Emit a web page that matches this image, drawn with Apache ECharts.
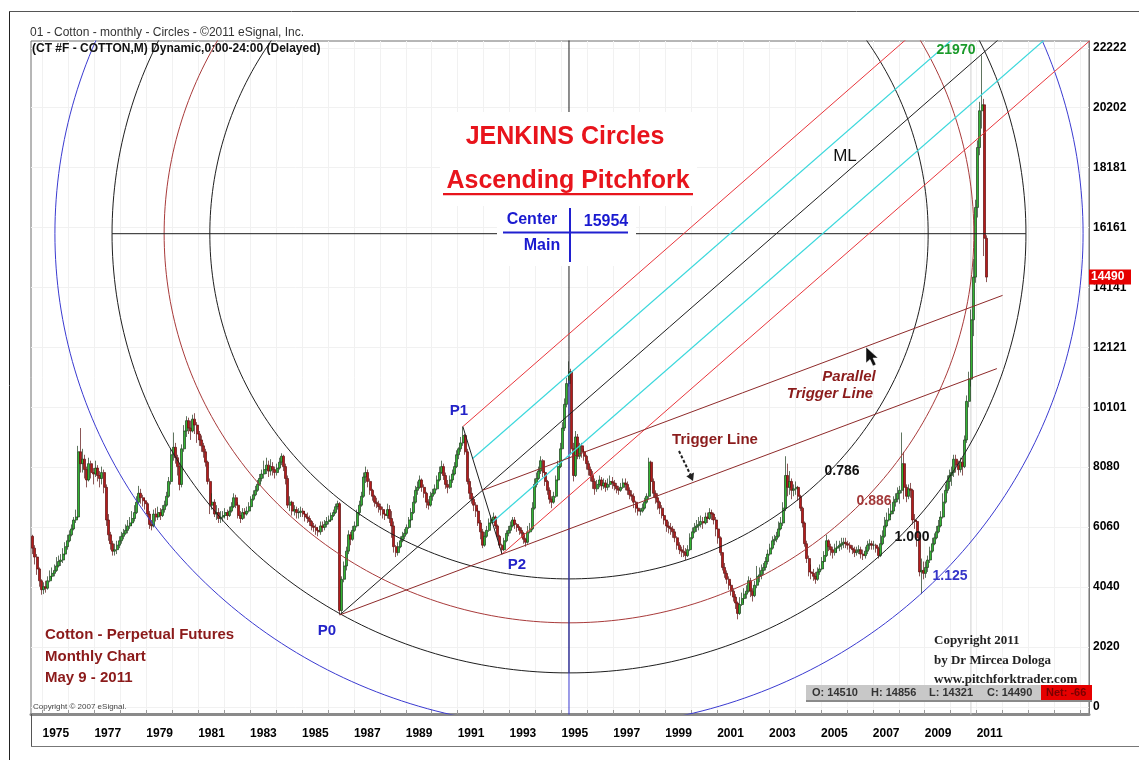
<!DOCTYPE html>
<html>
<head>
<meta charset="utf-8">
<script src="https://cdn.jsdelivr.net/npm/echarts@6/dist/echarts.min.js"></script>
<style>
html,body{margin:0;padding:0;background:#fff;}
#chart{width:1139px;height:760px;}
</style>
</head>
<body>
<div id="chart"></div>
<script>
// ---------------- DATA ----------------
const firstBar = [1974, 8];       // year, month of first monthly candle
const firstOpen = 5750;
// Monthly closes, Aug 1974 .. May 2011 (price in points)
const closes = [
  5350,5050,4650,4250,3950,                                        // 1974 Aug-Dec
  4050,4000,4250,4400,4500,4600,4750,4900,4950,5150,5400,5600,     // 1975
  5800,6000,6300,6400,8600,8200,8350,8000,7650,8200,7900,7850,     // 1976
  8050,7800,7700,7900,7400,6300,5800,5500,5250,5300,5450,5600,     // 1977
  5750,5850,5950,6100,6200,6350,6550,6900,7200,7050,6950,6850,     // 1978
  6500,6150,6100,6500,6400,6550,6450,6650,6800,7100,7600,8500,     // 1979
  8750,8400,8100,7500,8700,9300,9650,9400,9300,9700,9500,9200,     // 1980
  9000,8800,8600,8250,7600,6800,6900,6500,6550,6350,6400,6450,     // 1981
  6550,6450,6600,6750,7050,6800,6450,6350,6550,6500,6600,6750,     // 1982
  7000,7150,7300,7500,7700,7850,8000,8150,7950,8100,8000,7900,     // 1983
  8050,8250,8450,8100,7700,6800,6900,6600,6650,6550,6550,6600,     // 1984
  6500,6400,6350,6250,6100,6050,5950,5900,6100,6050,6150,6250,     // 1985
  6300,6450,6550,6750,6850,3250,4300,4750,5250,5800,5650,5950,     // 1986
  6100,6550,6800,7100,7750,7900,7600,7300,7100,6900,6850,6750,     // 1987
  6650,6500,6450,6650,6350,6100,5400,5200,5400,5600,5750,5850,     // 1988
  6050,6300,6550,6900,7300,7400,7650,7400,7200,6900,6800,7100,     // 1989
  7200,7350,7650,7900,8100,7800,7500,7400,7650,7850,8100,8500,     // 1990
  8700,8900,9150,8600,7600,7200,7000,6800,6600,6200,5900,5450,     // 1991
  5750,5950,6200,6300,6400,6100,5750,5450,5300,5600,5850,5950,     // 1992
  6100,6300,6150,6050,5950,5850,5650,5550,5900,6000,6700,7500,     // 1993
  7700,7950,8300,7900,7600,7300,7000,6900,7100,7650,8100,8700,     // 1994
  9400,10200,10900,11300,8700,7800,9100,8450,8800,8600,8450,8200,  // 1995
  8000,7800,7600,7350,7500,7650,7450,7550,7400,7500,7600,7550,     // 1996
  7450,7350,7300,7400,7550,7500,7300,7150,7100,6900,6700,6600,     // 1997
  6600,6700,6900,7100,8250,7600,7200,7050,6900,6700,6450,6300,     // 1998
  6100,6050,6000,5900,5700,5450,5300,5250,5200,5100,5300,5700,     // 1999
  5900,6050,6100,6150,6250,6200,6400,6350,6550,6500,6300,6000,     // 2000
  5700,5200,4700,4500,4300,4100,3900,3700,3500,3150,3450,3650,     // 2001
  3800,3900,4250,3900,3750,4100,4400,4450,4600,4700,4900,5150,     // 2002
  5350,5600,5650,5750,6000,6200,6700,7800,7400,7600,7300,7350,     // 2003
  7400,7100,6700,6200,5500,5000,4550,4500,4400,4300,4550,4650,     // 2004
  4900,5100,5600,5400,5300,5200,5350,5400,5450,5500,5550,5500,     // 2005
  5450,5350,5300,5200,5250,5300,5150,5100,5250,5450,5500,5450,     // 2006
  5450,5350,5100,5500,5750,6100,6300,6500,6600,6900,7000,7200,     // 2007
  7300,8200,7400,7100,7350,7300,6300,6250,5700,4550,4600,4500,     // 2008
  4700,4950,5250,5500,5700,5900,6100,6400,6900,7300,7600,7800,     // 2009
  7900,8350,8150,8000,8250,8100,9000,10300,11050,13050,14490,16840,// 2010
  18860,20100,20300,15800,14490                                    // 2011 Jan-May
];
const highs = [
  5800,5450,5150,4700,4300,
  4200,4250,4400,4600,4700,4800,5050,5100,5150,5350,5550,5800,
  5950,6150,6400,6650,8800,9400,8700,8500,8100,8400,8300,8050,
  8300,8150,7950,8100,8000,7500,6500,5900,5600,5500,5600,5750,
  5900,6000,6150,6300,6400,6600,6800,7100,7450,7350,7150,7050,
  6900,6600,6300,6650,6700,6750,6700,6800,6950,7250,7750,8700,
  9250,8900,8500,8200,8850,9500,9800,9750,9650,9850,9900,9600,
  9300,9150,8900,8700,8300,7700,7200,7000,6800,6700,6600,6600,
  6700,6650,6750,6900,7200,7150,6900,6600,6700,6700,6750,6900,
  7100,7300,7450,7650,7850,8000,8300,8400,8300,8350,8250,8100,
  8200,8400,8550,8500,8200,7800,7100,6950,6800,6750,6700,6750,
  6700,6600,6550,6450,6300,6200,6150,6050,6250,6250,6300,6400,
  6450,6550,6650,6850,6950,6900,4400,4900,5400,5950,5900,6100,
  6250,6650,6950,7250,7900,8100,8000,7700,7350,7150,7050,6950,
  6850,6750,6650,6850,6800,6600,6250,5450,5550,5750,5900,6000,
  6150,6400,6700,7100,7450,7600,7800,7700,7500,7250,7000,7250,
  7350,7500,7800,8100,8300,8200,7900,7650,7800,8000,8250,8650,
  8750,9100,9450,9200,8700,7700,7400,7100,6900,6700,6300,6000,
  5900,6100,6350,6450,6550,6450,6150,5800,5500,5700,5950,6100,
  6250,6400,6400,6200,6100,6050,5900,5700,6100,6200,6900,7700,
  7900,8100,8450,8350,7950,7650,7400,7100,7250,7800,8300,8900,
  9600,10400,11100,11650,11400,8900,9300,9200,8900,8900,8700,8500,
  8300,8100,7950,7700,7650,7800,7750,7700,7650,7700,7800,7750,
  7650,7550,7450,7550,7700,7700,7600,7400,7300,7200,6950,6800,
  6700,6850,7050,7200,8400,8300,7700,7300,7200,6950,6800,6500,
  6300,6250,6200,6100,6000,5750,5550,5400,5450,5350,5450,5850,
  6050,6200,6300,6400,6450,6400,6550,6550,6700,6650,6550,6400,
  6000,5750,5200,4850,4600,4400,4200,4000,3800,3550,3700,3850,
  4000,4100,4400,4350,4000,4250,4750,4700,4800,4850,5050,5300,
  5500,5750,5800,5900,6250,6400,6900,8450,8200,7950,7700,7500,
  7600,7450,7150,6750,6250,5600,5100,4800,4650,4550,4700,4800,
  5050,5250,5800,5650,5500,5400,5500,5600,5600,5700,5700,5700,
  5600,5550,5450,5400,5400,5450,5400,5300,5400,5600,5650,5600,
  5600,5500,5400,5800,5950,6400,6550,6700,6850,7100,7200,7400,
  7450,9250,8600,7500,7500,7550,7350,6500,6300,5800,5000,4900,
  4900,5100,5400,5700,5850,6100,6300,6600,7200,7500,7800,8000,
  8100,8500,8500,8300,8400,8400,9150,10500,11300,13400,15100,17100,
  19100,20400,21970,20500,15900
];
const lows = [
  5150,4800,4450,4050,3780,
  3800,3850,3950,4200,4300,4400,4550,4700,4750,4850,5100,5300,
  5550,5750,5950,6200,6350,7900,7900,7700,7400,7600,7700,7500,
  7750,7600,7400,7500,7200,6100,5600,5300,5100,5100,5150,5350,
  5500,5650,5800,5850,6000,6100,6250,6500,6850,6850,6750,6650,
  6400,6000,5950,6050,6250,6300,6300,6400,6550,6750,7050,7500,
  8300,8200,7800,7300,7400,8600,9100,9200,9000,9250,9200,8900,
  8800,8600,8400,8100,7500,6500,6650,6400,6300,6200,6200,6250,
  6350,6300,6400,6550,6700,6700,6350,6200,6300,6350,6450,6550,
  6750,6950,7100,7250,7450,7600,7700,7850,7750,7800,7800,7700,
  7800,8000,8150,7950,7500,6700,6600,6450,6450,6350,6350,6400,
  6400,6250,6200,6100,5950,5900,5800,5750,5800,5900,5950,6050,
  6150,6250,6400,6500,6650,3100,3150,4200,4600,5150,5450,5600,
  5900,6050,6450,6750,7050,7550,7400,7150,6950,6750,6700,6550,
  6450,6350,6300,6350,6200,5700,5200,5050,5100,5350,5550,5650,
  5800,6000,6250,6500,6850,7150,7350,7250,7050,6700,6650,6750,
  6950,7150,7300,7600,7850,7650,7350,7200,7350,7550,7800,8050,
  8350,8600,8800,8500,7500,7000,6850,6600,6400,6100,5650,5350,
  5400,5700,5900,6100,6200,6000,5650,5350,5150,5250,5550,5750,
  5850,6050,6000,5900,5800,5700,5500,5400,5500,5850,5950,6650,
  7400,7650,7850,7750,7450,7150,6850,6700,6850,7050,7600,8050,
  8700,9300,10100,10800,8500,7600,7750,8350,8350,8400,8300,8000,
  7800,7600,7350,7150,7250,7400,7300,7350,7250,7300,7400,7350,
  7300,7200,7150,7250,7350,7300,7150,7000,6950,6700,6550,6450,
  6450,6550,6650,6850,7000,7300,7050,6850,6650,6500,6350,6150,
  5900,5850,5800,5700,5550,5300,5150,5050,5050,4950,5050,5250,
  5650,5850,5900,5950,6050,6000,6150,6200,6300,6300,6150,5750,
  5500,5100,4600,4350,4150,3950,3750,3550,3300,2950,3100,3400,
  3500,3650,3850,3700,3550,3700,4000,4200,4300,4450,4600,4800,
  5100,5300,5450,5550,5700,5950,6100,6600,7100,7150,7000,7100,
  7150,6950,6600,6050,5400,4850,4400,4300,4250,4150,4250,4450,
  4600,4850,5050,5250,5100,5000,5100,5200,5250,5300,5350,5350,
  5300,5200,5150,5050,5100,5150,5000,4950,5000,5150,5300,5300,
  5300,5200,5000,5050,5450,5700,6050,6250,6400,6500,6750,6900,
  6850,7200,7000,6900,7000,7050,6150,6000,5400,4400,3800,4300,
  4350,4550,4850,5200,5450,5650,5850,6050,6350,6850,7200,7350,
  7450,7750,7900,7800,7900,7800,8050,8900,10100,10800,12500,14300,
  16500,18600,19500,15200,14321
];
const yearLabels = [1975,1977,1979,1981,1983,1985,1987,1989,1991,1993,1995,1997,1999,2001,2003,2005,2007,2009,2011];
const yearTicks = [1975,1976,1977,1978,1979,1980,1981,1982,1983,1984,1985,1986,1987,1988,1989,1990,1991,1992,1993,1994,1995,1996,1997,1998,1999,2000,2001,2002,2003,2004,2005,2006,2007,2008,2009,2010,2011,2012,2013,2014,2015];
const priceTicks = [0,2020.2,4040.4,6060.6,8080.8,10101,12121.2,14141.4,16161.6,18181.8,20202,22222.2];
const priceTickLabels = ['0','2020','4040','6060','8080','10101','12121','14141','16161','18181','20202','22222'];

// Jenkins circles: centre (time, price), radius of the 1.000 circle (years, points)
const circleCenter = [1995.29, 15954];
const circleRadius = [17.61, 14810];
const circleLevels = [0.786, 0.886, 1.000, 1.125];
const circleColors = ['#1e1e1e', '#a83a3a', '#1e1e1e', '#3a3ad0'];

// Pitchfork pivots (time, price)
const P0 = [1986.46, 3100];
const P1 = [1991.20, 9450];
const P2 = [1992.71, 5150];
const triggerEnd = 2011.78;
const parallelTriggerEnd = 2012.0;
const cursorTime = 2010.78;
const lastPrice = 14490;

// ---------------- BUILD ----------------
const candles = closes.map((c, i) => {
  const m = firstBar[1] - 1 + i;
  const t = firstBar[0] + m / 12 + 1 / 24;
  const o = i === 0 ? firstOpen : closes[i - 1];
  return [t, o, c, lows[i], highs[i]];
});

function ellipse(r) {
  const pts = [];
  for (let k = 0; k <= 360; k++) {
    const a = k * Math.PI / 180;
    pts.push([circleCenter[0] + circleRadius[0] * r * Math.cos(a),
              circleCenter[1] + circleRadius[1] * r * Math.sin(a)]);
  }
  return pts;
}
const lerp = (a, b, f) => [a[0] + (b[0] - a[0]) * f, a[1] + (b[1] - a[1]) * f];
const M  = lerp(P1, P2, 0.5);
const Q1 = lerp(P1, P2, 0.25);
const Q3 = lerp(P1, P2, 0.75);
const dir = [M[0] - P0[0], M[1] - P0[1]];
const ext = p => [p[0] + dir[0] * 6, p[1] + dir[1] * 6];
const trig = [P2[0] - P0[0], P2[1] - P0[1]];
const trigAt = (p, t) => [t, p[1] + trig[1] * (t - p[0]) / trig[0]];

function seg(points, color, width, z) {
  return { type: 'line', data: points, symbol: 'none', silent: true, animation: false,
           lineStyle: { color: color, width: width || 1 }, z: z || 4, clip: true };
}

const series = [
  { type: 'candlestick', data: candles, barWidth: 2.5, z: 2, silent: true, animation: false,
    itemStyle: { color: '#33b533', color0: '#b41c1c', borderColor: '#1b3a1b', borderColor0: '#5a0e0e', borderWidth: 0.7 } },
  seg([[cursorTime, -1000], [cursorTime, 30000]], '#d0d0d0', 1, 1),
];
circleLevels.forEach((r, i) => series.push(seg(ellipse(r), circleColors[i], 1, 4)));
series.push(
  seg([[circleCenter[0] - circleRadius[0], circleCenter[1]], [circleCenter[0] + circleRadius[0], circleCenter[1]]], '#1e1e1e', 1, 4),
  seg([[circleCenter[0], circleCenter[1] - circleRadius[1]], [circleCenter[0], 30000]], '#1e1e1e', 1, 4),
  seg([[circleCenter[0], 11000], [circleCenter[0], -1000]], '#3a3ad0', 1, 4),
  seg([P0, ext(P0)], '#1e1e1e', 1, 5),
  seg([P1, ext(P1)], '#e8363c', 1, 5),
  seg([Q1, ext(Q1)], '#3cd8dc', 1.2, 5),
  seg([Q3, ext(Q3)], '#3cd8dc', 1.2, 5),
  seg([P2, ext(P2)], '#e8363c', 1, 5),
  seg([P1, P2], '#1e1e1e', 1, 5),
  seg([P0, trigAt(P0, triggerEnd)], '#8e2a2a', 1, 5),
  seg([M, trigAt(M, parallelTriggerEnd)], '#8e2a2a', 1, 5)
);

const F = "'Liberation Sans', Arial, sans-serif";
function txt(x, y, s, font, fill, align, extra) {
  return Object.assign({ type: 'text', x: x, y: y, z: 100, silent: true,
    style: { text: s, font: font, fill: fill, align: align || 'center', verticalAlign: 'middle',
             textAlign: align || 'center', textVerticalAlign: 'middle' } }, extra || {});
}
function rect(x, y, w, h, fill, z) {
  return { type: 'rect', z: z || 90, silent: true, shape: { x: x, y: y, width: w, height: h }, style: { fill: fill } };
}
function ln(x1, y1, x2, y2, color, width, dash, z) {
  return { type: 'line', z: z || 95, silent: true, shape: { x1: x1, y1: y1, x2: x2, y2: y2 },
           style: { stroke: color, lineWidth: width || 1, lineDash: dash || null } };
}

const graphics = [
  // frames
  ln(9.5, 11, 9.5, 760, '#222', 1),
  ln(9, 11.5, 1139, 11.5, '#555', 1),
  ln(31.5, 714, 31.5, 746, '#555', 1),
  ln(31, 746.5, 1139, 746.5, '#777', 1),
  txt(30, 33, '01 - Cotton - monthly - Circles - \u00A92011 eSignal, Inc.', '12px ' + F, '#333', 'left'),
  txt(32, 49, '(CT #F - COTTON,M) Dynamic,0:00-24:00 (Delayed)', 'bold 12px ' + F, '#111', 'left'),
  // title block
  rect(440, 112, 257, 94, '#ffffff', 90),
  txt(565, 137, 'JENKINS Circles', 'bold 25px ' + F, '#e8141c'),
  txt(568, 181, 'Ascending Pitchfork', 'bold 25px ' + F, '#e8141c'),
  rect(443, 193, 250, 2.2, '#e8141c', 96),
  // centre label
  rect(497, 205, 139, 61, '#ffffff', 90),
  ln(503, 232.5, 628, 232.5, '#2020d0', 2),
  ln(570, 208, 570, 262, '#2020d0', 2),
  txt(532, 220, 'Center', 'bold 16px ' + F, '#1a1ad0'),
  txt(606, 222, '15954', 'bold 16px ' + F, '#1a1ad0'),
  txt(542, 246, 'Main', 'bold 16px ' + F, '#1a1ad0'),
  // pitchfork labels
  txt(845, 156, 'ML', '17px ' + F, '#111'),
  txt(459, 411, 'P1', 'bold 15px ' + F, '#2323c8'),
  txt(517, 565, 'P2', 'bold 15px ' + F, '#2323c8'),
  txt(327, 631, 'P0', 'bold 15px ' + F, '#2323c8'),
  txt(715, 440, 'Trigger Line', 'bold 15px ' + F, '#8b1c1c'),
  ln(679, 451, 690.5, 475, '#222', 2, [3, 2]),
  { type: 'polygon', z: 96, silent: true, shape: { points: [[693, 481], [694, 472.5], [686.3, 476.3]] }, style: { fill: '#222' } },
  txt(849, 377, 'Parallel', 'italic bold 15px ' + F, '#8b1c1c'),
  txt(830, 394, 'Trigger Line', 'italic bold 15px ' + F, '#8b1c1c'),
  { type: 'polygon', z: 96, silent: true,
    shape: { points: [[866, 347], [866, 363], [870, 359.5], [873, 366], [876, 364.5], [873, 358], [878, 358]] },
    style: { fill: '#111', stroke: '#fff', lineWidth: 0.5 } },
  // circle level labels
  txt(842, 471, '0.786', 'bold 14px ' + F, '#111'),
  txt(874, 501, '0.886', 'bold 14px ' + F, '#a33a3a'),
  txt(912, 537, '1.000', 'bold 14px ' + F, '#111'),
  txt(950, 576, '1.125', 'bold 14px ' + F, '#3535c8'),
  txt(956, 50, '21970', 'bold 14px ' + F, '#1a9a2a'),
  // lower-left caption
  txt(45, 635, 'Cotton - Perpetual Futures', 'bold 15px ' + F, '#8b1a1a', 'left'),
  txt(45, 657, 'Monthly Chart', 'bold 15px ' + F, '#8b1a1a', 'left'),
  txt(45, 678, 'May 9 - 2011', 'bold 15px ' + F, '#8b1a1a', 'left'),
  txt(33, 707, 'Copyright \u00A9 2007 eSignal.', '8px ' + F, '#444', 'left'),
  // copyright right
  txt(934, 641, 'Copyright 2011', "bold 13px 'Liberation Serif', 'Times New Roman', serif", '#222', 'left'),
  txt(934, 661, 'by Dr Mircea Dologa', "bold 13px 'Liberation Serif', 'Times New Roman', serif", '#222', 'left'),
  txt(934, 680, 'www.pitchforktrader.com', "bold 13px 'Liberation Serif', 'Times New Roman', serif", '#222', 'left'),
  // OHLC box
  rect(806, 685, 235, 15, '#c8c8c8', 92),
  rect(806, 700, 286, 2, '#8a8a8a', 92),
  rect(1041, 685, 51, 15, '#e60000', 92),
  txt(812, 693, 'O: 14510', 'bold 11px ' + F, '#333', 'left'),
  txt(871, 693, 'H: 14856', 'bold 11px ' + F, '#333', 'left'),
  txt(929, 693, 'L: 14321', 'bold 11px ' + F, '#333', 'left'),
  txt(987, 693, 'C: 14490', 'bold 11px ' + F, '#333', 'left'),
  txt(1046, 693, 'Net: -66', 'bold 11px ' + F, '#7a0000', 'left')
];

const chart = echarts.init(document.getElementById('chart'), null, { renderer: 'canvas' });
chart.setOption({
  animation: false,
  backgroundColor: '#ffffff',
  grid: { left: 31, right: 50, top: 41, bottom: 46, show: true, borderColor: '#6e6e6e', borderWidth: 1 },
  xAxis: {
    type: 'value', min: 1974.557, max: 2015.33,
    axisLine: { show: true, onZero: false, lineStyle: { color: '#8a8a8a', width: 3 } },
    axisTick: { show: true, customValues: yearTicks, inside: true, length: 4, lineStyle: { color: '#9a9a9a' } },
    axisLabel: { customValues: yearLabels, formatter: v => String(Math.round(v)), align: 'left', margin: 14,
                 color: '#000', fontWeight: 'bold', fontSize: 12, fontFamily: 'Liberation Sans' },
    splitLine: { show: true, lineStyle: { color: '#f1f1f1' } }
  },
  yAxis: {
    type: 'value', position: 'right', min: -242, max: 22452,
    axisLine: { show: true, onZero: false, lineStyle: { color: '#7a7a7a', width: 1 } },
    axisTick: { show: false, customValues: priceTicks },
    axisLabel: { customValues: priceTicks, margin: 4, color: '#000', fontWeight: 'bold', fontSize: 12, fontFamily: 'Liberation Sans',
                 formatter: v => { const k = priceTicks.findIndex(p => Math.abs(p - v) < 0.01); return k >= 0 ? priceTickLabels[k] : ''; } },
    splitLine: { show: true, lineStyle: { color: '#f1f1f1' } }
  },
  series: series,
  graphic: { elements: graphics }
});

// last-price tag on the price axis, placed through the axis scale
const tagY = chart.convertToPixel({ yAxisIndex: 0 }, lastPrice);
graphics.push(rect(1089, tagY - 7.5, 42, 15, '#e60000', 97));
graphics.push(txt(1091, tagY, String(lastPrice), 'bold 12px ' + F, '#ffffff', 'left', { z: 101 }));
chart.setOption({ graphic: { elements: graphics } }, { replaceMerge: ['graphic'] });
</script>
</body>
</html>
